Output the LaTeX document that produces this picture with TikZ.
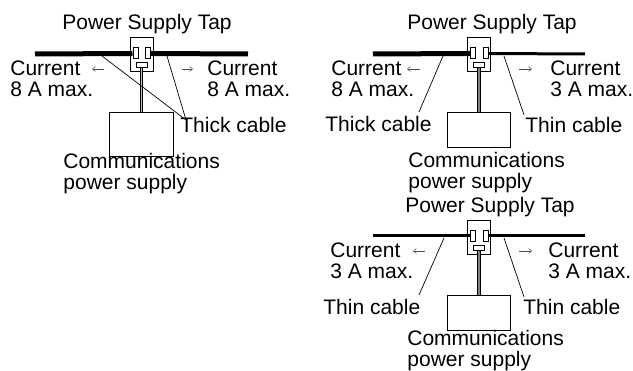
\documentclass[tikz,border=0pt]{standalone}
\usepackage{fontspec}
\setmainfont{Liberation Sans}
\usetikzlibrary{arrows.meta, positioning, calc}
\tikzset{
    tapdiagram/.style={x=1pt, y=-1pt, >={Straight Barb[length=3pt, width=5pt]}, line width=0.8pt},
    tapbox/.style={draw, fill=white, minimum width=23pt, minimum height=34pt, inner sep=0pt, line width=1pt},
    pinslot/.style={draw, fill=white, minimum width=5pt, minimum height=11pt, inner sep=0pt, line width=1pt},
    earthslot/.style={draw, fill=white, minimum width=11pt, minimum height=5pt, inner sep=0pt, line width=1pt},
    supplybox/.style={draw, minimum width=63.5pt, minimum height=35pt, inner sep=0pt, line width=1pt},
    label/.style={anchor=north west, inner sep=0pt, align=left, font=\fontsize{21}{21}\selectfont},
    thickcable/.style={line width=5pt},
    thincable/.style={line width=3pt},
    feedcable/.style={draw=black, line width=0.8pt, double=gray, double distance=1.6pt},
    leader/.style={line width=0.7pt},
    flow/.style={->, draw=black!70, line width=0.5pt},
}
\begin{document}
\begin{tikzpicture}[tapdiagram]
    \useasboundingbox (0,0) rectangle (633,371);

    % thick on both sides
    \node[label] (titleA) at (62,14) {Power Supply Tap};
    \node[tapbox] (tapA) at (141.5,55) {};
    \node[pinslot] (pinlA) at (135.5,53.5) {};
    \node[pinslot] (pinrA) at (148,53.5) {};
    \node[earthslot] (earthA) at (141.5,65.5) {};
    \node[supplybox] (supplyA) at (141.5,135) [minimum height=44pt] {};
    \coordinate (endlA) at (35,54);
    \coordinate (endrA) at (248,54);
    \draw[thickcable] (endlA) -- (pinlA.west);
    \draw[thickcable] (pinrA.east) -- (endrA);
    \draw[feedcable, double=black!25] (earthA.south) -- (earthA.south |- supplyA.north);
    \node[label] (currlA) at (10,60) {Current\\8 A max.};
    \node[label] (currrA) at (207,60) {Current\\8 A max.};
    \node[label] (cableA) at (180,117) {Thick cable};
    \node[label] (commA) at (63,153) {Communications\\power supply};
    \coordinate (meetA) at (186,120);
    \coordinate (hitlA) at (102,56);
    \coordinate (hitrA) at (167,56);
    \draw[leader] (hitlA) -- (meetA);
    \draw[leader] (hitrA) -- (meetA);
    \coordinate (arlA) at (104,69);
    \coordinate (arrA) at (182,69);
    \draw[flow] (arlA) -- ++(-12,0);
    \draw[flow] (arrA) -- ++(11,0);

    % thick on the left, thin on the right
    \node[label] (titleB) at (407,14) {Power Supply Tap};
    \node[tapbox] (tapB) at (479,55) {};
    \node[pinslot] (pinlB) at (473,53.5) {};
    \node[pinslot] (pinrB) at (485.5,53.5) {};
    \node[earthslot] (earthB) at (479,65.5) {};
    \node[supplybox] (supplyB) at (479,130.5) {};
    \coordinate (endlB) at (373,54);
    \coordinate (endrB) at (585,54);
    \draw[thickcable] (endlB) -- (pinlB.west);
    \draw[thincable] (pinrB.east) -- (endrB);
    \draw[feedcable] (earthB.south) -- (earthB.south |- supplyB.north);
    \node[label] (currlB) at (331,60) {Current\\8 A max.};
    \node[label] (currrB) at (550,60) {Current\\3 A max.};
    \node[label] (cableB) at (325,116) {Thick cable};
    \node[label] (cablerB) at (525,117) {Thin cable};
    \node[label] (commB) at (408,152) {Communications\\power supply};
    \coordinate (hitlB) at (443,56);
    \coordinate (footlB) at (419,112);
    \coordinate (hitrB) at (504,56);
    \coordinate (footrB) at (524,115);
    \draw[leader] (hitlB) -- (footlB);
    \draw[leader] (hitrB) -- (footrB);
    \coordinate (arlB) at (420,69);
    \coordinate (arrB) at (519,69);
    \draw[flow] (arlB) -- ++(-13,0);
    \draw[flow] (arrB) -- ++(13,0);

    % thin on both sides
    \node[label] (titleC) at (405,197) {Power Supply Tap};
    \node[tapbox] (tapC) at (479,237.5) {};
    \node[pinslot] (pinlC) at (473,236) {};
    \node[pinslot] (pinrC) at (485.5,236) {};
    \node[earthslot] (earthC) at (479,248) {};
    \node[supplybox] (supplyC) at (479,313.5) {};
    \coordinate (endlC) at (373,236);
    \coordinate (endrC) at (585,236);
    \draw[thincable] (endlC) -- (pinlC.west);
    \draw[thincable] (pinrC.east) -- (endrC);
    \draw[feedcable] (earthC.south) -- (earthC.south |- supplyC.north);
    \node[label] (currlC) at (330,242) {Current\\3 A max.};
    \node[label] (currrC) at (548,242) {Current\\3 A max.};
    \node[label] (cableC) at (323,299) {Thin cable};
    \node[label] (cablerC) at (523,299) {Thin cable};
    \node[label] (commC) at (407,330) {Communications\\power supply};
    \coordinate (hitlC) at (444,238);
    \coordinate (footlC) at (419,295);
    \coordinate (hitrC) at (504,238);
    \coordinate (footrC) at (524,297);
    \draw[leader] (hitlC) -- (footlC);
    \draw[leader] (hitrC) -- (footrC);
    \coordinate (arlC) at (425,251);
    \coordinate (arrC) at (519,251);
    \draw[flow] (arlC) -- ++(-12,0);
    \draw[flow] (arrC) -- ++(13,0);
\end{tikzpicture}
\end{document}
